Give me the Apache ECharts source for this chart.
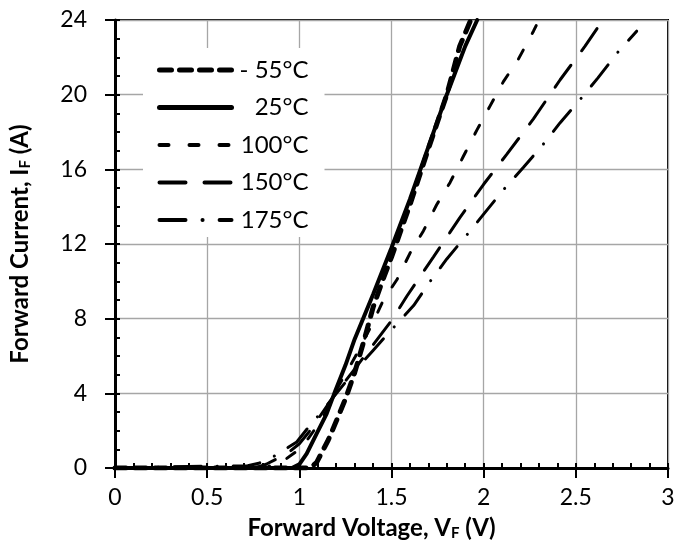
<!DOCTYPE html>
<html>
<head>
<meta charset="utf-8">
<script src="https://cdn.jsdelivr.net/npm/echarts@6/dist/echarts.min.js"></script>
<style>
html,body{margin:0;padding:0;background:#fff;}
#chart{width:678px;height:548px;}
</style>
</head>
<body>
<div id="chart"></div>
<script>
// Legend / series names
const seriesNames = ['- 55°C', '25°C', '100°C', '150°C', '175°C'];

// -55 °C
const vM55 = [0, 1.06, 1.094, 1.157, 1.2, 1.25, 1.3, 1.35, 1.4, 1.45, 1.5, 1.6, 1.7, 1.8, 1.87, 1.93];
const iM55 = [0, 0, 0.3, 1.5, 2.5, 3.7, 5.1, 6.8, 8.6, 10.0, 11.3, 14.1, 17.1, 20.0, 22.6, 24];
// 25 °C
const v25 = [0, 0.96, 1.0, 1.04, 1.094, 1.148, 1.19, 1.25, 1.3, 1.4, 1.5, 1.6, 1.7, 1.8, 1.9, 1.965];
const i25 = [0, 0, 0.2, 0.77, 1.84, 2.9, 4.0, 5.5, 6.9, 9.3, 11.8, 14.4, 17.2, 20.0, 22.6, 24];
// 100 °C
const v100 = [0, 0.82, 0.86, 0.93, 1.0, 1.05, 1.1, 1.15, 1.19, 1.3, 1.4, 1.456, 1.53, 1.6, 1.673, 1.745, 1.818, 1.89, 1.963, 2.035, 2.107, 2.188, 2.27, 2.285];
const i100 = [0, 0, 0.23, 0.5, 1.0, 1.6, 2.3, 3.1, 4.0, 5.9, 7.8, 9.0, 10.1, 11.5, 12.7, 14.1, 15.3, 16.7, 18.1, 19.4, 20.7, 21.9, 23.4, 23.7];
// 150 °C
const v150 = [0, 0.76, 0.82, 0.88, 0.95, 1.0, 1.05, 1.1, 1.19, 1.3, 1.4, 1.5, 1.583, 1.727, 1.87, 2.0, 2.125, 2.27, 2.415, 2.55, 2.64];
const i150 = [0, 0, 0.2, 0.5, 0.9, 1.3, 1.9, 2.6, 3.9, 5.3, 6.6, 7.9, 9.2, 11.3, 13.4, 15.2, 16.8, 18.7, 20.8, 22.6, 23.9];
// 175 °C
const v175 = [0, 0.4, 0.72, 0.78, 0.85, 0.913, 0.986, 1.05, 1.112, 1.185, 1.3, 1.4, 1.5, 1.62, 1.71, 1.8, 1.91, 2.0, 2.107, 2.215, 2.32, 2.415, 2.52, 2.62, 2.73, 2.83];
const i175 = [0, 0.08, 0.12, 0.25, 0.55, 0.94, 1.39, 2.19, 2.9, 3.8, 5.2, 6.3, 7.4, 8.7, 10.0, 11.2, 12.5, 13.6, 14.9, 16.1, 17.3, 18.5, 19.7, 20.9, 22.3, 23.4];

// Axis ticks
const xTicks = [0, 0.5, 1, 1.5, 2, 2.5, 3];
const yTicks = [0, 4, 8, 12, 16, 20, 24];

function pairs(v, i) { return v.map((x, k) => [x, i[k]]); }

const FONT = 'Lato';
const chart = echarts.init(document.getElementById('chart'), null, {renderer: 'canvas'});

const styles = [
  {width: 5, type: [11, 9], cap: 'round'},
  {width: 4, type: 'solid', cap: 'round'},
  {width: 3, type: [10, 19], cap: 'round'},
  {width: 3, type: [27, 18], cap: 'round'},
  {width: 3, type: [27, 16, 0.1, 16], cap: 'round'}
];
const legendStyles = [
  {width: 5, type: [12, 8], cap: 'round'},
  {width: 5, type: 'solid', cap: 'round'},
  {width: 4, type: [9, 21], cap: 'round'},
  {width: 4, type: [26, 19], cap: 'round'},
  {width: 4, type: [26, 17, 0.1, 17], cap: 'round'}
];
const dataSets = [pairs(vM55, iM55), pairs(v25, i25), pairs(v100, i100), pairs(v150, i150), pairs(v175, i175)];

const subRich = {
  a: {fontSize: 24, fontWeight: 'bold', fontFamily: FONT, color: '#000'},
  s: {fontSize: 15, fontWeight: 'bold', fontFamily: FONT, color: '#000', verticalAlign: 'bottom', padding: [10, 0, 0, 0]}
};

const option = {
  animation: false,
  backgroundColor: '#fff',
  grid: {left: 115, right: 10, top: 20, bottom: 80, show: true, borderColor: '#000', borderWidth: 2, backgroundColor: 'transparent'},
  legend: {
    left: 143, top: 48, orient: 'vertical',
    padding: [10, 16, 5, 14],
    itemGap: 13.5,
    itemWidth: 72, itemHeight: 14,
    backgroundColor: '#fff',
    selectedMode: false,
    data: seriesNames.map((n, k) => ({
      name: n,
      itemStyle: {color: 'rgba(0,0,0,0)', borderWidth: 0, opacity: 0},
      lineStyle: Object.assign({color: '#000'}, legendStyles[k])
    })),
    formatter: n => '{t|' + n + '}',
    textStyle: {
      color: '#000',
      rich: {t: {width: 72, align: 'right', fontSize: 24, fontFamily: FONT, lineHeight: 26, color: '#000'}}
    }
  },
  xAxis: [{
    type: 'value', min: 0, max: 3, interval: 0.5, position: 'bottom',
    axisLine: {show: true, onZero: false, lineStyle: {color: '#000', width: 3}},
    axisTick: {show: true, inside: false, length: 10, lineStyle: {color: '#000', width: 2}},
    axisLabel: {color: '#000', fontSize: 23, fontFamily: FONT, margin: 18,
      customValues: xTicks, formatter: v => String(v)},
    splitLine: {show: true, lineStyle: {color: '#a6a6a6', width: 1.3}},
    name: '{a|Forward Voltage, V}{s|F}{a| (V)}',
    nameLocation: 'middle', nameGap: 48,
    nameTextStyle: {rich: subRich, padding: [0, 40, 0, 0]}
  }, {
    type: 'value', min: 0, max: 3, interval: 0.1, position: 'bottom',
    axisLine: {show: false}, axisLabel: {show: false}, splitLine: {show: false},
    axisTick: {show: true, inside: true, length: 5, lineStyle: {color: '#000', width: 2}}
  }],
  yAxis: [{
    type: 'value', min: 0, max: 24, interval: 4, position: 'left',
    axisLine: {show: true, onZero: false, lineStyle: {color: '#000', width: 3}},
    axisTick: {show: true, inside: false, length: 10, lineStyle: {color: '#000', width: 2}},
    axisLabel: {color: '#000', fontSize: 23, fontFamily: FONT, margin: 8,
      align: 'right', padding: [0, 20, 0, 0]},
    splitLine: {show: true, lineStyle: {color: '#a6a6a6', width: 1.3}},
    name: '{a|Forward Current, I}{s|F}{a| (A)}',
    nameLocation: 'middle', nameGap: 82,
    nameTextStyle: {rich: subRich}
  }, {
    type: 'value', min: 0, max: 24, interval: 1, position: 'left',
    axisLine: {show: false}, axisLabel: {show: false}, splitLine: {show: false},
    axisTick: {show: true, inside: true, length: 5, lineStyle: {color: '#000', width: 2}}
  }],
  series: seriesNames.map((n, k) => ({
    name: n, type: 'line', xAxisIndex: 0, yAxisIndex: 0,
    data: dataSets[k], showSymbol: false, symbol: 'none',
    lineStyle: Object.assign({color: '#000'}, styles[k]),
    itemStyle: {color: '#000'},
    emphasis: {disabled: true},
    z: 5 - k
  }))
};
chart.setOption(option);
</script>
</body>
</html>
